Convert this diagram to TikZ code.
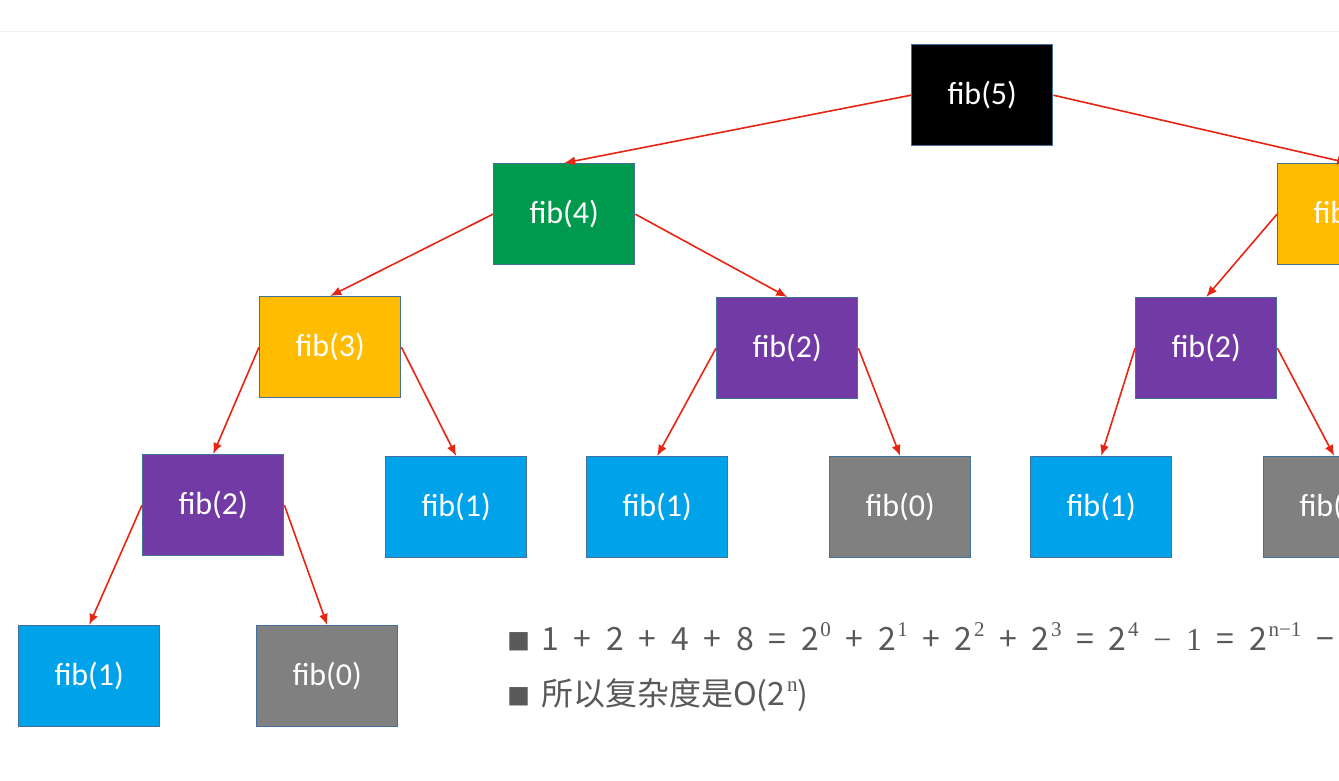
\documentclass[tikz,border=0pt]{standalone}
\usepackage{fontspec}
\setmainfont{Carlito}
\newfontfamily\cjk{Noto Sans CJK SC}
\newfontfamily\serifm{Liberation Serif}
\usetikzlibrary{arrows.meta}
\definecolor{boxline}{RGB}{65,113,156}
\definecolor{arrowred}{RGB}{232,36,18}
\definecolor{fibblack}{RGB}{0,0,0}
\definecolor{fibgreen}{RGB}{0,154,78}
\definecolor{fibyellow}{RGB}{255,188,0}
\definecolor{fibpurple}{RGB}{114,58,164}
\definecolor{fibblue}{RGB}{0,162,234}
\definecolor{fibgray}{RGB}{128,128,128}
\definecolor{txtgray}{RGB}{89,89,89}
\newcommand{\sq}[1]{\hspace{1.5pt}\raisebox{0.42em}{\fontsize{21}{21}\selectfont\serifm #1}}
\newcommand{\gp}{\hspace{0.46em}}
\newcommand{\blt}{{\fontsize{23}{23}\selectfont ■}\hspace{11pt}}
\begin{document}
\begin{tikzpicture}[x=1pt,y=-1pt,
  box/.style={draw=boxline, line width=1.4pt, minimum width=141pt, minimum height=101pt,
    text=white, font=\fontsize{32}{38}\selectfont, inner sep=0pt, anchor=north west},
  edge/.style={draw=arrowred, line width=1.6pt, -{Latex[length=11pt,width=9pt]}},
  note/.style={text=txtgray, font=\cjk\fontsize{32}{38}\selectfont, anchor=base west, inner sep=0pt}]
\useasboundingbox (0,0) rectangle (1339,780);
\clip (0,0) rectangle (1339,780);
\fill[white] (0,0) rectangle (1339,780);
\draw[gray!10, line width=1pt] (0,31) -- (1339,31);
% level 0
\node[box, fill=fibblack] (n5) at (911,44) {fib(5)};
% level 1
\node[box, fill=fibgreen] (n4) at (493,163) {fib(4)};
\node[box, fill=fibyellow] (n3r) at (1277,163) {fib(3)};
% level 2
\node[box, fill=fibyellow] (n3) at (259,296) {fib(3)};
\node[box, fill=fibpurple] (n2m) at (716,297) {fib(2)};
\node[box, fill=fibpurple] (n2r) at (1135,297) {fib(2)};
% level 3
\node[box, fill=fibpurple] (n2l) at (142,454) {fib(2)};
\node[box, fill=fibblue] (n1a) at (385,456) {fib(1)};
\node[box, fill=fibblue] (n1b) at (586,456) {fib(1)};
\node[box, fill=fibgray] (n0a) at (829,456) {fib(0)};
\node[box, fill=fibblue] (n1c) at (1030,456) {fib(1)};
\node[box, fill=fibgray] (n0b) at (1263,456) {fib(0)};
% level 4
\node[box, fill=fibblue] (n1d) at (18,625) {fib(1)};
\node[box, fill=fibgray] (n0c) at (256,625) {fib(0)};
% edges
\draw[edge] (n5.west) -- (n4.north);
\draw[edge] (n5.east) -- (n3r.north);
\draw[edge] (n4.west) -- (n3.north);
\draw[edge] (n4.east) -- (n2m.north);
\draw[edge] (n3r.west) -- (n2r.north);
\draw[edge] (n3.west) -- (n2l.north);
\draw[edge] (n3.east) -- (n1a.north);
\draw[edge] (n2m.west) -- (n1b.north);
\draw[edge] (n2m.east) -- (n0a.north);
\draw[edge] (n2r.west) -- (n1c.north);
\draw[edge] (n2r.east) -- (n0b.north);
\draw[edge] (n2l.west) -- (n1d.north);
\draw[edge] (n2l.east) -- (n0c.north);
% notes
\node[note] (l1) at (507,650) {\blt 1\gp+\gp2\gp+\gp4\gp+\gp8\gp=\gp2\sq{0}\gp+\gp2\sq{1}\gp+\gp2\sq{2}\gp+\gp2\sq{3}\gp=\gp2\sq{4}\gp{\serifm −\gp1}\gp=\gp2\sq{n−1}\gp−};
\node[note] (l2) at (507,705) {\blt 所以复杂度是O(2\sq{n})};
\end{tikzpicture}
\end{document}
